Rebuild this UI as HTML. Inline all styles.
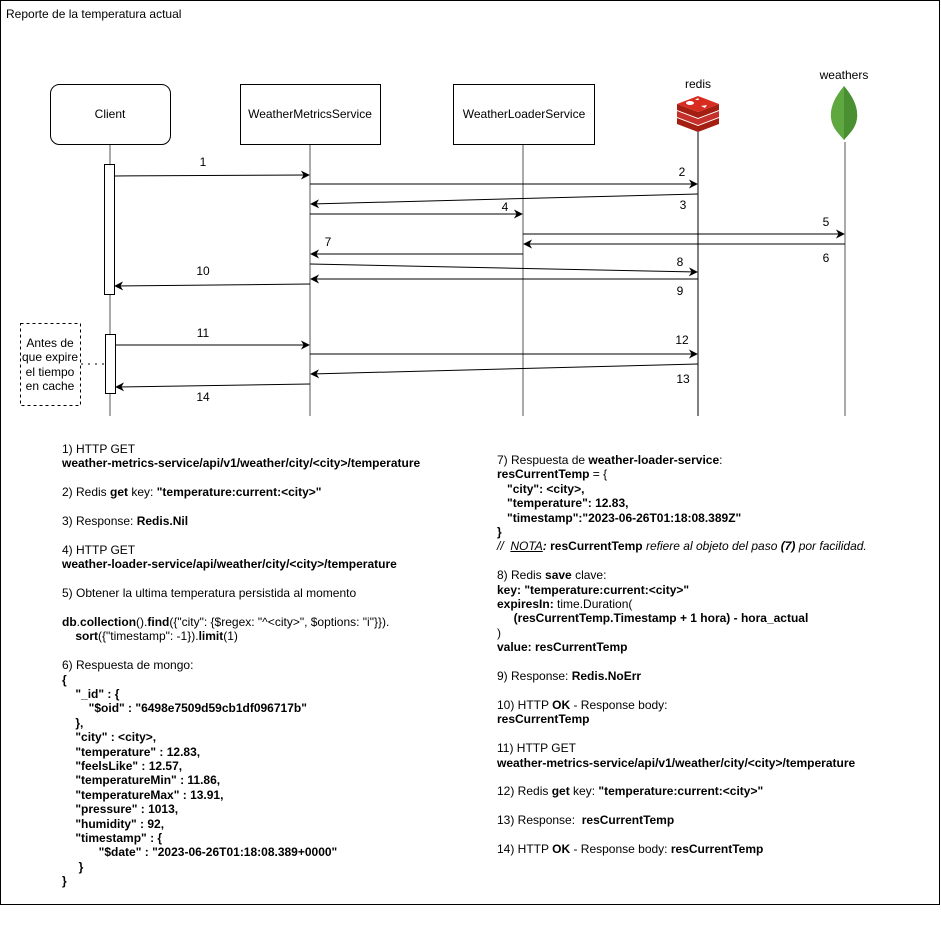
<!DOCTYPE html>
<html><head><meta charset="utf-8"><style>
body{margin:0;background:#fff;width:941px;height:925px;overflow:hidden;font-family:"Liberation Sans",Arial,sans-serif;}
.t{position:absolute;font-size:12px;line-height:14.4px;white-space:pre;color:#000;}
b{font-weight:bold}
</style></head><body>
<svg width="941" height="925" style="position:absolute;left:0;top:0" font-family="Liberation Sans, Arial, sans-serif" font-size="12">
<defs>
<marker id="a" viewBox="0 0 10 10" refX="9" refY="5" markerWidth="9" markerHeight="9" orient="auto" markerUnits="userSpaceOnUse"><path d="M0,0 L10,5 L0,10 L3,5 Z" fill="#000"/></marker>
</defs>
<rect x="0.5" y="0.5" width="939" height="904" fill="none" stroke="#000"/>
<text x="6" y="18">Reporte de la temperatura actual</text>
<g stroke="#555" stroke-width="1">
<line x1="110" y1="144" x2="110" y2="416"/>
<line x1="310" y1="144" x2="310" y2="416"/>
<line x1="523" y1="144" x2="523" y2="416"/>
<line x1="698" y1="132" x2="698" y2="416" stroke="#000"/>
<line x1="845" y1="142" x2="845" y2="416"/>
</g>
<rect x="50.5" y="84.5" width="120" height="60" rx="9" fill="#fff" stroke="#000"/>
<text x="110" y="118" text-anchor="middle">Client</text>
<rect x="240.5" y="84.5" width="140" height="60" fill="#fff" stroke="#000"/>
<text x="310" y="118" text-anchor="middle">WeatherMetricsService</text>
<rect x="453.5" y="84.5" width="141" height="60" fill="#fff" stroke="#000"/>
<text x="524" y="118" text-anchor="middle">WeatherLoaderService</text>
<text x="698" y="88" text-anchor="middle">redis</text>
<text x="844" y="79" text-anchor="middle">weathers</text>
<g>
<path d="M677,118 L698,126 L719,118 L719,124 L698,132 L677,124 Z" fill="#a41e11"/>
<path d="M677,111 L698,119 L719,111 L719,117 L698,125 L677,117 Z" fill="#c6302b"/>
<path d="M677,104 L698,112 L719,104 L719,110 L698,118 L677,110 Z" fill="#a41e11"/>
<path d="M677,104 L698,96 L719,104 L698,112 Z" fill="#d82c20"/>
<ellipse cx="690" cy="103" rx="4" ry="2" fill="#fff"/>
<path d="M695,100 l3,-2 l1,2 z M701,106 l6,-1 l-2,3 z" fill="#fff"/>
</g>
<path d="M844,86 C834,98 830,108 831,118 C832,128 839,134 844,140 C849,134 856,128 857,118 C858,108 854,98 844,86 Z" fill="#5fa840"/>
<path d="M844,86 C854,98 858,108 857,118 C856,128 849,134 844,140 Z" fill="#4a8f32"/>
<rect x="104.5" y="164.5" width="10" height="130" fill="#fff" stroke="#000"/>
<rect x="105.5" y="334.5" width="10" height="59" fill="#fff" stroke="#000"/>
<rect x="20.5" y="323.5" width="60" height="82" fill="#fff" stroke="#000" stroke-dasharray="3,3"/>
<line x1="81" y1="364" x2="105" y2="364" stroke="#000" stroke-dasharray="2,5"/>
<g stroke="#000" stroke-width="1" fill="none" marker-end="url(#a)">
<line x1="114" y1="176" x2="309" y2="175"/>
<line x1="310" y1="184" x2="697" y2="184"/>
<line x1="698" y1="194" x2="311" y2="204"/>
<line x1="310" y1="214" x2="522" y2="214"/>
<line x1="523" y1="234" x2="844" y2="234"/>
<line x1="845" y1="244" x2="524" y2="244"/>
<line x1="523" y1="254" x2="311" y2="254"/>
<line x1="310" y1="264" x2="697" y2="272"/>
<line x1="698" y1="279" x2="311" y2="279"/>
<line x1="310" y1="284" x2="115" y2="286"/>
<line x1="115" y1="345" x2="309" y2="345"/>
<line x1="310" y1="354" x2="697" y2="354"/>
<line x1="698" y1="364" x2="311" y2="374"/>
<line x1="310" y1="384" x2="116" y2="387"/>
</g>
<g fill="#000">
<text x="203" y="166" text-anchor="middle">1</text>
<text x="682" y="176" text-anchor="middle">2</text>
<text x="683" y="209" text-anchor="middle">3</text>
<text x="505" y="211" text-anchor="middle">4</text>
<text x="826" y="226" text-anchor="middle">5</text>
<text x="826" y="262" text-anchor="middle">6</text>
<text x="328" y="246" text-anchor="middle">7</text>
<text x="680" y="266" text-anchor="middle">8</text>
<text x="680" y="295" text-anchor="middle">9</text>
<text x="203" y="275" text-anchor="middle">10</text>
<text x="203" y="337" text-anchor="middle">11</text>
<text x="682" y="344" text-anchor="middle">12</text>
<text x="683" y="383" text-anchor="middle">13</text>
<text x="203" y="401" text-anchor="middle">14</text>
</g>
<g text-anchor="middle" fill="#000">
<text x="50" y="347">Antes de</text>
<text x="50" y="361">que expire</text>
<text x="50" y="376">el tiempo</text>
<text x="50" y="390">en cache</text>
</g>
</svg>
<div class="t" style="left:62px;top:442px">1) HTTP GET
<b>weather-metrics-service/api/v1/weather/city/&lt;city&gt;/temperature</b>

2) Redis <b>get</b> key: <b>"temperature:current:&lt;city&gt;"</b>

3) Response: <b>Redis.Nil</b>

4) HTTP GET
<b>weather-loader-service/api/weather/city/&lt;city&gt;/temperature</b>

5) Obtener la ultima temperatura persistida al momento

<b>db</b>.<b>collection</b>().<b>find</b>({"city": {$regex: "^&lt;city&gt;", $options: "i"}}).
    <b>sort</b>({"timestamp": -1}).<b>limit</b>(1)

6) Respuesta de mongo:
<b>{
    "_id" : {
        "$oid" : "6498e7509d59cb1df096717b"
    },
    "city" : &lt;city&gt;,
    "temperature" : 12.83,
    "feelsLike" : 12.57,
    "temperatureMin" : 11.86,
    "temperatureMax" : 13.91,
    "pressure" : 1013,
    "humidity" : 92,
    "timestamp" : {
           "$date" : "2023-06-26T01:18:08.389+0000"
     }
}</b></div>
<div class="t" style="left:497px;top:453px">7) Respuesta de <b>weather-loader-service</b>:
<b>resCurrentTemp</b> = {
   <b>"city": &lt;city&gt;,</b>
   <b>"temperature": 12.83,</b>
   <b>"timestamp":"2023-06-26T01:18:08.389Z"</b>
<b>}</b>
<i>//  <u>NOTA</u><b>:</b> </i><b>resCurrentTemp</b><i> refiere al objeto del paso <b>(7)</b> por facilidad.</i>

8) Redis <b>save</b> clave:
<b>key: "temperature:current:&lt;city&gt;"</b>
<b>expiresIn:</b> time.Duration(
     <b>(resCurrentTemp.Timestamp + 1 hora) - hora_actual</b>
)
<b>value: resCurrentTemp</b>

9) Response: <b>Redis.NoErr</b>

10) HTTP <b>OK</b> - Response body:
<b>resCurrentTemp</b>

11) HTTP GET
<b>weather-metrics-service/api/v1/weather/city/&lt;city&gt;/temperature</b>

12) Redis <b>get</b> key: <b>"temperature:current:&lt;city&gt;"</b>

13) Response:  <b>resCurrentTemp</b>

14) HTTP <b>OK</b> - Response body: <b>resCurrentTemp</b></div>
</body></html>
